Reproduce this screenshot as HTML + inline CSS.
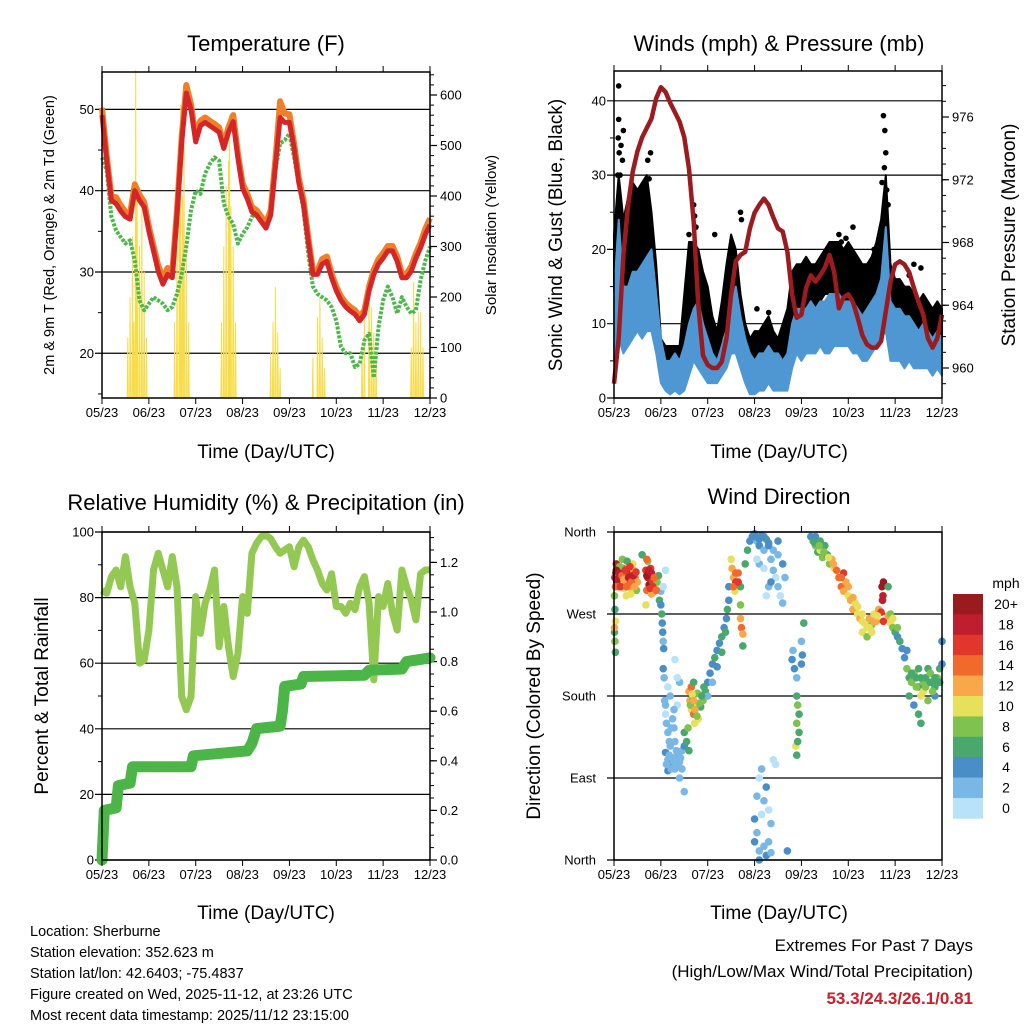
<!DOCTYPE html>
<html><head><meta charset="utf-8"><style>
body{margin:0;background:#fff;}
svg{display:block;font-family:"Liberation Sans",Arial,sans-serif;}
</style></head><body>
<svg id="c" width="1024" height="1024" viewBox="0 0 1024 1024" xmlns="http://www.w3.org/2000/svg">
<text x="266" y="51" font-size="22" text-anchor="middle">Temperature (F)</text>
<text x="779" y="51" font-size="22" text-anchor="middle">Winds (mph) &amp; Pressure (mb)</text>
<text x="266" y="510" font-size="22" text-anchor="middle">Relative Humidity (%) &amp; Precipitation (in)</text>
<text x="779" y="504" font-size="22" text-anchor="middle">Wind Direction</text>
<text x="266" y="458" font-size="19" text-anchor="middle">Time (Day/UTC)</text>
<text x="779" y="458" font-size="19" text-anchor="middle">Time (Day/UTC)</text>
<text x="266" y="919" font-size="19" text-anchor="middle">Time (Day/UTC)</text>
<text x="779" y="919" font-size="19" text-anchor="middle">Time (Day/UTC)</text>
<text transform="translate(54,235) rotate(-90)" font-size="14.5" text-anchor="middle">2m &amp; 9m T (Red, Orange) &amp; 2m Td (Green)</text>
<text transform="translate(496,235) rotate(-90)" font-size="15" text-anchor="middle">Solar Insolation (Yellow)</text>
<text transform="translate(562,235) rotate(-90)" font-size="19" text-anchor="middle">Sonic Wind &amp; Gust (Blue, Black)</text>
<text transform="translate(1015,235) rotate(-90)" font-size="19" text-anchor="middle">Station Pressure (Maroon)</text>
<text transform="translate(48,696) rotate(-90)" font-size="19" text-anchor="middle">Percent &amp; Total Rainfall</text>
<text transform="translate(540,696) rotate(-90)" font-size="19" text-anchor="middle">Direction (Colored By Speed)</text>
<g font-size="14.5">
<text x="30" y="936">Location: Sherburne</text>
<text x="30" y="957">Station elevation: 352.623 m</text>
<text x="30" y="978">Station lat/lon: 42.6403; -75.4837</text>
<text x="30" y="999">Figure created on Wed, 2025-11-12, at 23:26 UTC</text>
<text x="30" y="1020">Most recent data timestamp: 2025/11/12 23:15:00</text>
</g>
<text x="973" y="951" font-size="17" text-anchor="end">Extremes For Past 7 Days</text>
<text x="973" y="977" font-size="17" text-anchor="end">(High/Low/Max Wind/Total Precipitation)</text>
<text x="973" y="1004" font-size="17" font-weight="bold" fill="#c8202c" text-anchor="end">53.3/24.3/26.1/0.81</text>
</svg>
<script>
const xLabels=["05/23","06/23","07/23","08/23","09/23","10/23","11/23","12/23"];
const tGrid=[0,0.1,0.2,0.3,0.4,0.5,0.6,0.7,0.8,0.9,1,1.1,1.2,1.3,1.4,1.5,1.6,1.7,1.8,1.9,2,2.1,2.2,2.3,2.4,2.5,2.6,2.7,2.8,2.9,3,3.1,3.2,3.3,3.4,3.5,3.6,3.7,3.8,3.9,4,4.1,4.2,4.3,4.4,4.5,4.6,4.7,4.8,4.9,5,5.1,5.2,5.3,5.4,5.5,5.6,5.7,5.8,5.9,6,6.1,6.2,6.3,6.4,6.5,6.6,6.7,6.8,6.9,7];
const temp2m=[49.3,43.7,38.8,38.4,37.5,36.8,36.5,40,38.8,38,35,32.6,30.1,28.5,29.7,29.3,37,46,52,50,46,48,48.4,48,47.6,47.2,45.2,47.2,48.5,44,40.3,39,37.4,37,36.2,35.4,37,43,49,48.4,48.4,45.2,41,38.3,33.8,29.7,29.7,31,31.3,29.3,27.7,26.5,25.7,25.2,24.8,24,24.8,27.7,29.7,31,31.7,32.6,32.6,31.3,29.3,29.3,30.1,31.7,33,34.6,35.8];
const temp9m=[50.2,44.3,39.3,39.2,38.2,37.4,37.2,40.8,39.5,38.6,35.6,33.2,30.8,29.3,30.5,30,37.6,46.6,53,50.6,46.6,48.6,49,48.6,48.2,47.8,45.8,47.8,49.3,44.6,40.9,39.6,38,37.6,36.8,36,37.6,43.8,51,49.5,49.4,45.8,41.6,38.9,34.3,30.2,30.2,31.6,31.9,29.8,28.2,27,26.2,25.7,25.3,24.5,25.3,28.2,30.3,31.6,32.3,33.2,33.2,31.9,29.8,29.8,30.7,32.3,33.6,35.3,36.6];
const dewpoint=[44.1,42.5,36.8,35.1,34.3,33.5,33.9,31.4,26.5,25.3,26.1,26.9,26.5,26.1,25.3,25.7,27.3,29.8,33.1,37.6,40,39.6,42.1,43.3,44.1,43.7,38.4,36.8,35.9,33.5,34.7,35.5,36.8,37.2,36.4,35.9,37.2,42.5,45.8,46.2,47,44.1,40.8,37.6,32.3,28.2,27.3,26.9,26.5,25.7,24,20.8,20,20,18.3,18.7,21.6,22.4,17,23.2,26.5,28.2,26.9,24.9,26.9,25.7,24.9,25.3,29,31.4,33.1];
const solarT=[0.55,0.6,0.65,0.68,0.72,0.75,0.8,0.85,0.9,0.95,1.55,1.6,1.65,1.68,1.72,1.75,1.8,1.85,2.55,2.6,2.65,2.7,2.72,2.75,2.8,2.85,3.6,3.65,3.7,3.75,3.8,4.5,4.6,4.65,4.7,4.75,5.55,5.6,5.7,5.75,5.8,5.85,6.6,6.65,6.7,6.75,6.8,6.85];
const solarV=[120,200,320,150,650,420,300,380,250,120,150,300,450,580,400,500,300,150,150,300,420,470,560,380,300,150,90,150,220,130,60,80,160,200,120,60,100,170,240,180,130,90,100,230,150,170,170,100];
const pressure=[959.0,961.9,967.2,970.4,972.5,973.8,974.7,975.3,975.9,977.2,977.9,977.6,976.9,976.3,975.7,974.7,972.7,969.3,964,960.8,960.2,960,960,960.4,961.9,964.7,966.8,967.2,967.4,968.9,969.9,970.4,970.8,970.4,969.6,968.9,968.7,967.4,964.7,963.2,963.4,965.1,965.9,965.5,965.9,966.4,967.2,966.1,963.8,964.5,964.7,964.2,963.2,962.1,961.5,961.3,961.3,961.7,963.6,965.5,966.6,966.8,966.6,966.1,965.1,964.2,963.4,961.9,961.3,961.9,963.4];
const windLo=[5,8,6,7,8,9,8,9,9,6,2,1,0.5,1,0.5,1,3,5,4,3,2,2,2,3,4,6,6,4,2,0.5,0.5,1,1,2,1,1,1,1,4,6,5,6,6,6,7,6,6,7,7,7,7,6,6,5,5,6,7,8,9,5,5,5,4,5,4,4,4,4,3,4,3];
const windHi=[14,24,15,15,17,17,18,19,20,14,8,5,5,6,5,7,10,12,13,10,8,6,5,7,9,12,15,11,8,6,5,6,6,7,6,6,5,6,10,12,12,12,13,12,13,13,14,14,14,13,13,13,12,11,12,13,14,16,23,13,12,12,11,11,10,9,10,9,8,9,8];
const gustLo=[10,15,12,14,14,14,15,15,13,10,5,4,4,4,4,6,10,12,12,10,8,6,5,8,10,12,11,7,4,3,4,4,4,5,4,4,5,6,10,11,12,12,12,12,13,14,14,13,12,12,12,13,12,11,11,12,13,14,14,11,10,10,9,9,9,8,8,7,6,7,6];
const gustHi=[22,30,24,27,29,28,29,30,25,18,8,7,7,7,7,14,21,21,20,17,15,11,9,13,18,22,20,14,10,8,9,9,10,11,9,8,10,12,17,18,18,19,18,18,19,20,21,21,21,20,21,20,19,18,18,19,21,24,30,18,16,16,15,15,14,13,14,13,12,13,12];
const gustT=[0.1,0.1,0.11,0.13,0.15,0.08,0.72,0.78,0.75,1.7,1.72,1.75,2.15,2.7,2.72,3.3,3.05,4.5,4.8,5.55,5.75,5.78,5.8,5.77,5.72,5.85,5.82,6.4,6.55,6.3,4.85,4.95,5.1,0.2,0.18,0.09,1.6];
const gustV=[42,37.5,33,30,34,30,32,33,29.5,26,24.5,23,22,25,24,11.5,12,18.5,22,20,38,36,33,31,29,26,28,18,17.5,16.5,21,21.5,23,36,32,35,22];
const rh=[82.3,81.3,86.4,88.4,83.3,92.5,83.3,78.3,60,61,70.1,88.4,93.5,88.4,83.3,92.5,83.3,49.8,45.8,49.8,80.3,69.1,78.3,82.3,88.4,65,77.3,65,55.9,63,80.3,75.2,93.5,96.6,98.6,99,98,95.5,93.5,94.5,95.5,89.4,95.5,97.5,95.5,91.5,88.4,84.3,82.3,87.3,77.3,77.3,75.2,78.3,76.3,83.3,86.4,78.3,54.9,80.3,77.3,84.3,75.2,70.1,88.4,83.3,79.3,73.2,87.3,88.4,88.4];
const rainT=[0,0.02,0.05,0.3,0.35,0.6,0.65,1.9,1.95,3.1,3.2,3.3,3.8,3.85,3.9,4.25,4.3,5.6,5.7,6.4,6.5,7.0];
const rainV=[0,0.08,0.2,0.21,0.3,0.31,0.376,0.376,0.42,0.44,0.47,0.53,0.54,0.6,0.7,0.71,0.74,0.745,0.765,0.77,0.8,0.815];
const dirT=[0.02,0.04,0.06,0.08,0.03,0.05,0.01,0.02,0.03,0.01,0.02,0.03,0.01,0.09,0.1,
0.15,0.2,0.25,0.3,0.35,0.4,0.45,0.5,0.18,0.28,0.38,0.22,0.32,0.42,0.48,0.6,0.12,
0.68,0.72,0.75,0.78,0.82,0.85,0.7,0.8,0.88,0.92,0.95,0.72,0.68,0.7,
0.97,1.0,1.02,1.03,1.04,1.05,1.06,1.1,1.0,1.05,
1.05,1.07,1.08,1.1,1.12,1.15,1.1,1.15,1.2,1.25,1.3,1.35,1.4,1.45,1.2,1.3,1.25,1.35,1.4,1.3,1.2,1.15,1.4,1.45,1.5,1.5,1.5,1.35,1.28,
1.6,1.62,1.65,1.68,1.7,1.72,1.75,1.78,1.8,1.85,1.9,1.95,1.65,1.58,1.55,1.6,1.7,
2.0,2.05,2.1,2.15,2.2,2.25,2.3,2.35,2.4,2.42,2.45,2.1,2.2,2.3,2.38,2.45,2.0,
2.5,2.52,2.55,2.6,2.62,2.65,2.58,2.7,2.72,2.75,2.7,2.75,2.7,2.8,2.85,2.9,2.95,
3.0,3.05,3.1,3.15,3.2,3.25,3.3,3.35,3.4,3.45,3.5,3.55,3.6,3.1,3.2,3.3,3.4,3.5,3.6,3.65,3.05,3.25,3.35,3.5,
3.0,3.05,3.1,3.2,3.25,3.3,3.35,3.15,3.05,3.2,3.1,3.3,3.25,3.15,3.4,3.45,3.0,3.35,3.1,3.7,
3.8,3.85,3.9,3.82,3.9,3.92,3.95,3.9,3.95,3.88,3.92,3.9,4.0,4.02,4.05,4.0,
4.2,4.25,4.3,4.35,4.4,4.45,4.5,4.55,4.6,4.65,4.7,4.3,4.4,
4.75,4.8,4.85,4.9,4.95,5.0,5.05,5.1,5.15,5.2,4.9,
5.25,5.3,5.35,5.4,5.45,5.5,5.55,5.6,5.65,5.3,5.4,5.5,
5.72,5.74,5.75,5.73,5.7,5.75,5.85,
5.85,5.9,5.95,6.0,6.05,6.1,6.15,6.2,5.9,
6.25,6.3,6.35,6.4,6.45,6.5,6.55,6.6,6.65,6.7,6.75,6.8,6.85,6.9,6.95,7.0,6.3,6.4,6.5,6.55,6.7,6.85,7.0,6.25,6.6,
0.05,0.07,0.11,0.14,0.17,0.21,0.24,0.27,0.31,0.34,0.37,0.41,0.44,0.47,0.26,0.36,
0.7,0.74,0.77,0.8,0.83,0.86,0.9,
1.12,1.18,1.22,1.27,1.32,1.38,1.42,1.18,1.22,1.33,1.1,1.15,1.28,
1.63,1.67,1.73,1.77,1.82,1.87,1.92,1.7,
4.28,4.38,4.48,4.58,4.68,4.85,5.0,5.1,5.2,5.3,5.45,5.55,5.62,5.95,6.05,
6.35,6.45,6.55,6.65,6.75,6.85,6.95,6.5,6.8,
2.55,2.6,2.65,3.0,3.1,3.2,3.3];
const dirD=[310,315,305,320,300,325,290,275,262,250,240,228,255,312,300,
310,320,305,315,300,325,310,305,330,328,318,298,308,318,296,335,322,
318,310,302,320,306,295,296,292,300,305,312,328,280,330,
285,280,270,260,250,240,232,318,295,300,
210,200,175,160,150,140,118,110,105,112,100,115,108,100,125,130,155,170,195,220,180,98,90,120,140,125,75,200,145,
185,175,165,178,160,150,170,183,155,168,175,185,190,145,130,120,195,
195,205,215,222,230,238,245,255,265,275,285,195,212,228,250,300,180,
330,320,310,305,300,315,295,265,255,248,280,235,300,325,340,350,355,
358,350,345,356,340,352,348,330,318,310,300,290,282,325,320,300,340,335,325,310,330,290,305,350,
20,30,10,15,5,20,8,50,70,65,90,55,80,100,110,105,45,40,0,10,
220,210,200,230,180,170,160,150,140,125,130,115,240,225,260,215,
355,350,345,338,340,332,345,335,325,330,320,355,350,
318,310,300,295,305,290,285,275,282,270,315,
265,270,260,255,265,258,270,262,275,250,245,250,
300,290,305,285,272,262,300,
268,260,255,250,245,240,232,222,270,
210,200,195,205,200,190,180,195,200,210,205,195,190,200,210,215,180,170,160,150,175,180,240,230,185,
318,308,315,300,312,308,318,300,310,322,305,312,300,316,290,292,
312,318,298,315,300,310,296,
105,115,100,108,112,104,112,130,145,120,170,190,165,
170,182,165,158,172,180,190,175,
348,345,338,332,325,310,300,288,278,262,255,262,268,265,255,
205,190,200,190,195,200,195,210,185,
300,315,305,355,352,355,345];
const dirS=[18,20,18,16,14,19,8,6,10,7,8,6,12,17,14,
15,14,12,17,13,10,14,12,8,7,18,11,16,13,9,6,9,
16,18,20,17,16,18,14,12,10,8,6,9,11,14,
6,5,6,4,4,3,4,1,2,1,
4,3,2,1,2,3,4,3,4,3,2,3,2,3,2,3,2,1,2,1,3,4,2,2,6,5,2,1,2,
13,12,10,9,14,11,10,8,10,6,8,6,14,8,6,7,6,
5,4,5,6,4,5,6,4,5,6,4,3,4,6,7,5,3,
10,12,13,16,17,14,10,12,14,13,8,7,6,7,6,4,5,
4,3,4,5,3,6,4,2,2,1,2,1,3,2,1,2,3,2,4,2,1,1,4,4,
4,2,3,2,4,3,2,1,2,2,1,1,4,2,1,1,4,2,4,4,
4,5,3,3,6,8,7,8,6,10,7,6,2,5,6,4,
5,6,8,7,10,9,7,6,8,12,10,4,6,
14,15,14,13,12,11,12,12,10,11,16,
12,10,11,10,12,9,11,13,12,10,8,11,
20,19,20,18,16,16,6,
12,10,9,6,5,7,4,5,8,
8,7,9,8,6,7,10,8,6,7,8,6,7,8,6,5,6,5,6,6,8,5,4,4,11,
20,19,18,16,15,13,17,14,19,16,15,18,12,17,10,11,
20,18,16,19,17,15,14,
3,2,3,2,3,3,2,2,2,3,2,1,2,
9,11,12,9,8,7,6,13,
7,9,8,11,13,14,12,13,11,11,10,12,10,10,8,
7,8,7,8,7,6,7,6,8,
15,14,17,5,4,4,5];
const speedColors=["#b7e2f7","#79b8e6","#4a8ec8","#48a86e","#7fc24f","#e6e05a","#f8a848","#f26a2b","#e0362c","#be1e2d","#9b1a1d"];
const legendLabels=["0","2","4","6","8","10","12","14","16","18","20+"];

const NS="http://www.w3.org/2000/svg";
const svg=document.getElementById("c");
function mk(tag,attrs,parent){const e=document.createElementNS(NS,tag);for(const k in attrs)e.setAttribute(k,attrs[k]);(parent||svg).appendChild(e);return e;}
function lin(d0,d1,r0,r1){return v=>r0+(v-d0)*(r1-r0)/(d1-d0);}

function panel(name,x0,x1,y0,y1){
  const g=mk("g",{});
  
  
  return {g,x0,x1,y0,y1,xs:lin(0,7,x0,x1)};
}
function frame(p,name){
  const r=mk("rect",{x:p.x0,y:p.y0,width:p.x1-p.x0,height:p.y1-p.y0,fill:"none",stroke:"#000","stroke-width":1.5},p.g);
  
  
  xLabels.forEach((l,i)=>{
    const x=p.xs(i);
    mk("line",{x1:x,x2:x,y1:p.y1,y2:p.y1+6,stroke:"#000","stroke-width":1},p.g);
    mk("line",{x1:x,x2:x,y1:p.y0,y2:p.y0-6,stroke:"#000","stroke-width":1},p.g);
    const t=mk("text",{x:x,y:p.y1+19,"font-size":13,"text-anchor":"middle"},p.g);
    t.textContent=l;
    
    
  });
}
function leftAxis(p,ys,majors,minors,fmt,grid){
  minors.forEach(v=>mk("line",{x1:p.x0-4,x2:p.x0,y1:ys(v),y2:ys(v),stroke:"#000","stroke-width":1},p.g));
  majors.forEach(v=>{
    const y=ys(v);
    mk("line",{x1:p.x0-7,x2:grid?p.x1:p.x0,y1:y,y2:y,stroke:"#000","stroke-width":1.2},p.g);
    const t=mk("text",{x:p.x0-8,y:y+4.5,"font-size":13,"text-anchor":"end"},p.g);
    t.textContent=fmt(v);
    
    
  });
}
function rightAxis(p,ys,majors,minors,fmt){
  minors.forEach(v=>mk("line",{x1:p.x1,x2:p.x1+4,y1:ys(v),y2:ys(v),stroke:"#000","stroke-width":1},p.g));
  majors.forEach(v=>{
    const y=ys(v);
    mk("line",{x1:p.x1,x2:p.x1+7,y1:y,y2:y,stroke:"#000","stroke-width":1.2},p.g);
    const t=mk("text",{x:p.x1+10,y:y+4.5,"font-size":13,"text-anchor":"start"},p.g);
    t.textContent=fmt(v);
    
    
  });
}
function range(a,b,s){const r=[];for(let v=a;v<=b+1e-9;v+=s)r.push(+v.toFixed(4));return r;}
function pts(xs,ys,T,V){return T.map((t,i)=>xs(t).toFixed(1)+","+ys(V[i]).toFixed(1)).join(" ");}

// ---- Panel 1 Temperature
const p1=panel("temperature",102,430,72,398);
const ty=lin(14.5,54.6,398,72), sy=lin(0,600,398,95);
leftAxis(p1,ty,[20,30,40,50],[15,25,35,45],v=>v,true);
rightAxis(p1,sy,range(0,600,100),range(0,640,20),v=>v);
{
  const T=[0],V=[0];
  solarT.forEach((t,i)=>{T.push(t-0.012,t,t+0.012);V.push(0,solarV[i],0);});
  T.push(7);V.push(0);
  const l=mk("polyline",{points:pts(p1.xs,sy,T,V),fill:"none",stroke:"#f7dc4a","stroke-width":1},p1.g);
  
  
}
{
  let l=mk("polyline",{points:pts(p1.xs,ty,tGrid,dewpoint),fill:"none",stroke:"#4cb84a","stroke-width":4,"stroke-dasharray":"3,1.5","stroke-linejoin":"round"},p1.g);
  
  
  l=mk("polyline",{points:pts(p1.xs,ty,tGrid,temp9m),fill:"none",stroke:"#f07f2a","stroke-width":6,"stroke-linejoin":"round"},p1.g);
  
  
  l=mk("polyline",{points:pts(p1.xs,ty,tGrid,temp2m),fill:"none",stroke:"#d42626","stroke-width":5,"stroke-linejoin":"round"},p1.g);
  
  
}
frame(p1,"temperature");

// ---- Panel 2 Winds
const p2=panel("winds",614,942,71,398);
const wy=lin(0,40,398,100.8), py=lin(960,976,368,117);
leftAxis(p2,wy,[0,10,20,30,40],[5,15,25,35],v=>v,true);
rightAxis(p2,py,[960,964,968,972,976],range(959,978,1),v=>v);
{
  const T=tGrid.concat(tGrid.slice().reverse());
  let a=mk("polygon",{points:pts(p2.xs,wy,T,gustHi.concat(gustLo.slice().reverse())),fill:"#000",stroke:"#000","stroke-width":2,"stroke-linejoin":"round"},p2.g);
  
  
  gustT.forEach((t,i)=>{
    const c=mk("circle",{cx:p2.xs(t),cy:wy(gustV[i]),r:2.8,fill:"#000"},p2.g);
    
    
  });
  a=mk("polygon",{points:pts(p2.xs,wy,T,windHi.concat(windLo.slice().reverse())),fill:"#4f97d2",stroke:"#4f97d2","stroke-width":2,"stroke-linejoin":"round"},p2.g);
  
  
  const l=mk("polyline",{points:pts(p2.xs,py,tGrid,pressure),fill:"none",stroke:"#9b1b1f","stroke-width":4.5,"stroke-linejoin":"round"},p2.g);
  
  
}
frame(p2,"winds");

// ---- Panel 3 RH & precip
const p3=panel("humidity",102,430,532,860);
const hy=lin(0,100,860,532), ry=lin(0,1.2,860,562.4);
leftAxis(p3,hy,[0,20,40,60,80,100],[10,30,50,70,90],v=>v,true);
rightAxis(p3,ry,range(0,1.2,0.2),range(0,1.3,0.05),v=>v.toFixed(1));
{
  let l=mk("polyline",{points:pts(p3.xs,hy,tGrid,rh),fill:"none",stroke:"#93c952","stroke-width":7,"stroke-linejoin":"round"},p3.g);
  
  
  l=mk("polyline",{points:pts(p3.xs,ry,rainT,rainV),fill:"none",stroke:"#4bb548","stroke-width":11,"stroke-linejoin":"round","stroke-linecap":"round"},p3.g);
  
  
}
frame(p3,"humidity");

// ---- Panel 4 Wind direction
const p4=panel("wind-direction",614,942,532,860);
const dy=lin(0,360,860,532);
const dirNames=["North","East","South","West","North"];
[0,90,180,270,360].forEach((v,i)=>{
  const y=dy(v);
  mk("line",{x1:p4.x0-7,x2:p4.x1,y1:y,y2:y,stroke:"#000","stroke-width":1.2},p4.g);
  const t=mk("text",{x:p4.x0-18,y:y+4.5,"font-size":13,"text-anchor":"end"},p4.g);
  t.textContent=dirNames[i];
  
  
});
dirT.forEach((t,i)=>{
  const idx=Math.min(10,Math.floor(dirS[i]/2));
  const c=mk("circle",{cx:p4.xs(t),cy:dy(dirD[i]),r:3.8,fill:speedColors[idx]},p4.g);
  
  
});
frame(p4,"wind-direction");
{
  const lg=mk("g",{});
  
  
  const tt=mk("text",{x:1006,y:588,"font-size":14,"text-anchor":"middle"},lg);
  tt.textContent="mph";
  
  
  const h=20.4;
  for(let i=0;i<11;i++){
    const k=10-i, y=594+i*h;
    const r=mk("rect",{x:953,y:y,width:30,height:h+0.3,fill:speedColors[k]},lg);
    
    
    const t=mk("text",{x:1006,y:y+15,"font-size":14,"text-anchor":"middle"},lg);
    t.textContent=legendLabels[k];
    
    
  }
}
</script>
</body></html>
